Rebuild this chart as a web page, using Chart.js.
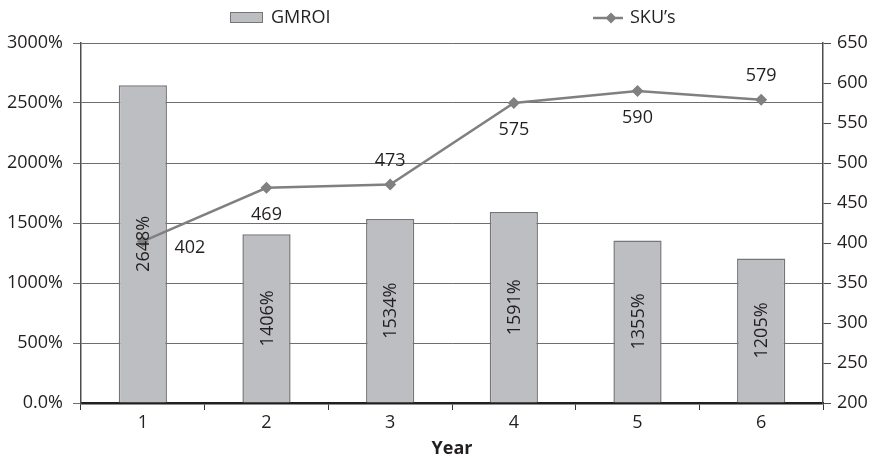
<!DOCTYPE html>
<html>
<head>
<meta charset="utf-8">
<style>
  html, body { margin: 0; padding: 0; background: #fff; }
  #wrap { width: 877px; height: 466px; position: relative; }
</style>
<script src="https://cdn.jsdelivr.net/npm/chart.js@4/dist/chart.umd.min.js"></script>
</head>
<body>
<div id="wrap"><canvas id="c" width="877" height="466"></canvas></div>
<script>
// Data
const years = ['1', '2', '3', '4', '5', '6'];
const gmroi = [2648, 1406, 1534, 1591, 1355, 1205];
const skus = [402, 469, 473, 575, 590, 579];
// where each SKU label sits relative to its point
const skuLabelSide = ['right', 'below', 'above', 'below', 'below', 'above'];

const FONT = '"Open Sans", "Noto Sans", sans-serif';
const TEXT = '#231f20';

// Value labels: rotated percentages inside bars, counts beside line points
const valueLabels = {
  id: 'valueLabels',
  afterDatasetsDraw(chart) {
    const ctx = chart.ctx;
    ctx.save();
    ctx.font = '18px ' + FONT;
    ctx.fillStyle = TEXT;
    ctx.textAlign = 'center';
    ctx.textBaseline = 'middle';
    chart.getDatasetMeta(0).data.forEach((bar, i) => {
      const cy = (bar.y + bar.base) / 2;
      ctx.save();
      ctx.translate(bar.x, cy);
      ctx.rotate(-Math.PI / 2);
      ctx.fillText(gmroi[i] + '%', 0, 1);
      ctx.restore();
    });
    chart.getDatasetMeta(1).data.forEach((pt, i) => {
      let x = pt.x, y = pt.y;
      const side = skuLabelSide[i];
      if (side === 'right') { x += 47; y += 6; }
      else if (side === 'below') { y += 27; }
      else { y -= 24; }
      ctx.fillText(String(skus[i]), x, y);
    });
    ctx.restore();
  }
};

// Legend across the top
const topLegend = {
  id: 'topLegend',
  afterDraw(chart) {
    const ctx = chart.ctx;
    const ds = chart.data.datasets;
    ctx.save();
    ctx.font = '18px ' + FONT;
    ctx.fillStyle = TEXT;
    ctx.textBaseline = 'middle';
    // bar series swatch
    ctx.fillStyle = ds[0].backgroundColor;
    ctx.fillRect(230.5, 12.5, 32, 10);
    ctx.strokeStyle = ds[0].borderColor;
    ctx.lineWidth = 1;
    ctx.strokeRect(230.5, 12.5, 32, 10);
    ctx.fillStyle = TEXT;
    ctx.fillText(ds[0].label, 271, 18);
    // line series swatch
    ctx.strokeStyle = ds[1].borderColor;
    ctx.lineWidth = 2.5;
    ctx.beginPath();
    ctx.moveTo(593, 18);
    ctx.lineTo(623, 18);
    ctx.stroke();
    ctx.fillStyle = ds[1].borderColor;
    ctx.beginPath();
    ctx.moveTo(611, 12.5);
    ctx.lineTo(616.5, 18);
    ctx.lineTo(611, 23.5);
    ctx.lineTo(605.5, 18);
    ctx.closePath();
    ctx.fill();
    ctx.fillStyle = TEXT;
    ctx.fillText(ds[1].label, 630, 18);
    ctx.restore();
  }
};

new Chart(document.getElementById('c'), {
  data: {
    labels: years,
    datasets: [
      {
        type: 'bar',
        label: 'GMROI',
        data: gmroi,
        yAxisID: 'y',
        backgroundColor: '#bdbec2',
        borderColor: '#767676',
        borderWidth: 1.5,
        categoryPercentage: 1,
        barPercentage: 0.39,
        order: 2
      },
      {
        type: 'line',
        label: 'SKU\u2019s',
        data: skus,
        yAxisID: 'y1',
        borderColor: '#808080',
        backgroundColor: '#808080',
        borderWidth: 2.5,
        pointStyle: 'rectRot',
        pointRadius: 6,
        pointBorderWidth: 0,
        pointBackgroundColor: '#808080',
        tension: 0,
        order: 1
      }
    ]
  },
  options: {
    responsive: false,
    animation: false,
    layout: { padding: { top: 43, left: 0, right: 0, bottom: 0 } },
    plugins: { legend: { display: false }, tooltip: { enabled: false } },
    scales: {
      x: {
        offset: true,
        grid: { offset: true, drawOnChartArea: false, color: '#333', tickLength: 7, lineWidth: 1 },
        border: { color: '#231f20', width: 2.5 },
        ticks: { color: TEXT, font: { family: FONT, size: 18 }, padding: 2 },
        title: { display: true, text: 'Year', color: TEXT, font: { family: FONT, size: 18, weight: 'bold' }, padding: { top: 0, bottom: 6 } },
        afterFit(s) { s.height = 63; }
      },
      y: {
        position: 'left',
        min: 0, max: 3000,
        ticks: {
          stepSize: 500,
          color: TEXT,
          font: { family: FONT, size: 18 },
          padding: 10,
          callback: v => v === 0 ? '0.0%' : v + '%'
        },
        grid: { color: '#6d6d6d', lineWidth: 1, tickLength: 8 },
        border: { color: '#4d4d4d', width: 1.5 },
        afterFit(s) { s.width = 81; }
      },
      y1: {
        position: 'right',
        min: 200, max: 650,
        ticks: { stepSize: 50, color: TEXT, font: { family: FONT, size: 18 }, padding: 6 },
        grid: { drawOnChartArea: false, color: '#4d4d4d', tickLength: 8 },
        border: { color: '#4d4d4d', width: 1.5 },
        afterFit(s) { s.width = 54; }
      }
    }
  },
  plugins: [valueLabels, topLegend]
});
</script>
</body>
</html>
